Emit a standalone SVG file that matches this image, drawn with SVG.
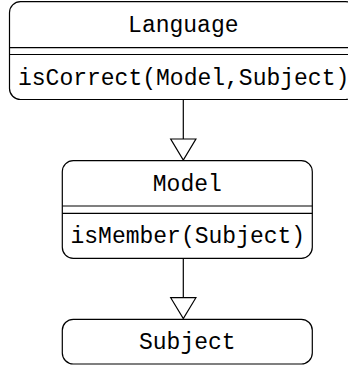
<svg xmlns="http://www.w3.org/2000/svg" width="348" height="367" viewBox="0 0 348 367">
<style>
.box{fill:#fff;stroke:#000;stroke-width:1.2}
.sep{stroke:#000;stroke-width:1.2}
.t{font-family:"Liberation Mono","DejaVu Sans Mono",monospace;font-size:23px;fill:#000;text-anchor:middle}
.m{font-family:"Liberation Mono","DejaVu Sans Mono",monospace;font-size:23px;fill:#000}
.ln{stroke:#000;stroke-width:1.2;fill:none}
.head{fill:#fff;stroke:#000;stroke-width:1.2}
</style>
<rect width="348" height="367" fill="#fff"/>
<g id="connectors">
<line class="ln" x1="183.3" y1="99.5" x2="183.3" y2="139"/>
<polygon class="head" points="170.7,139 195.9,139 183.3,160"/>
<line class="ln" x1="183.3" y1="258.3" x2="183.3" y2="297.7"/>
<polygon class="head" points="170.7,297.7 195.9,297.7 183.3,318.5"/>
</g>
<g id="Language">
<rect class="box" x="9.5" y="1.7" width="347" height="97.8" rx="11"/>
<line class="sep" x1="9.5" y1="47.7" x2="356.5" y2="47.7"/>
<line class="sep" x1="9.5" y1="54.5" x2="356.5" y2="54.5"/>
<text class="t" x="183.3" y="31.5">Language</text>
<text class="m" x="18" y="85">isCorrect(Model,Subject)</text>
</g>
<g id="Model">
<rect class="box" x="62.3" y="160.7" width="250" height="97.6" rx="11"/>
<line class="sep" x1="62.3" y1="206" x2="312.3" y2="206"/>
<line class="sep" x1="62.3" y1="213.3" x2="312.3" y2="213.3"/>
<text class="t" x="187.3" y="190.5">Model</text>
<text class="m" x="70.5" y="243.3">isMember(Subject)</text>
</g>
<g id="Subject">
<rect class="box" x="62.3" y="319.3" width="250" height="44.7" rx="11"/>
<text class="t" x="187.3" y="349.3">Subject</text>
</g>
</svg>
